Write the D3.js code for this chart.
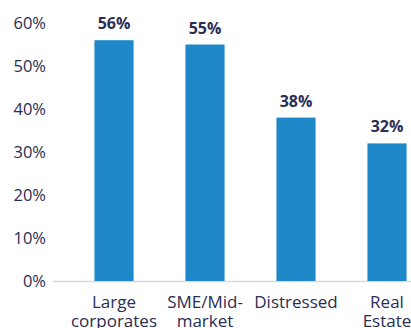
<!DOCTYPE html>
<html><head><meta charset="utf-8">
<script src="https://cdn.jsdelivr.net/npm/d3@7"></script>
<style>html,body{margin:0;padding:0;background:#fff;overflow:hidden;}svg{display:block;font-family:"Open Sans",sans-serif;}</style>
</head><body>
<svg id="c" width="411" height="328"></svg>
<script>
const categories = [["Large","corporates"],["SME/Mid-","market"],["Distressed"],["Real","Estate"]];
const values = [56, 55, 38, 32];
const valueLabels = ["56%","55%","38%","32%"];
const yTicks = [0,10,20,30,40,50,60];

const svg = d3.select("#c");
const y = d3.scaleLinear().domain([0,60]).range([281,23]);
const x = d3.scaleBand().domain(d3.range(values.length)).range([68.5,432.5]).paddingInner(0.57).paddingOuter(0.285);
const navy = "#2b2d52";

svg.append("line").attr("x1",53).attr("x2",411).attr("y1",y(0)+0.5).attr("y2",y(0)+0.5)
  .attr("stroke","#d9d9d9").attr("stroke-width",1.5);

svg.selectAll("text.yt").data(yTicks).enter().append("text").attr("class","yt")
  .attr("x",46).attr("y",d=>y(d)).attr("dy","0.36em").attr("text-anchor","end")
  .attr("font-size",16.5).attr("fill",navy).text(d=>d+"%");

svg.selectAll("rect.bar").data(values).enter().append("rect").attr("class","bar")
  .attr("x",(d,i)=>x(i)).attr("width",x.bandwidth()).attr("y",d=>y(d)).attr("height",d=>y(0)-y(d))
  .attr("fill","#1f88c9");

svg.selectAll("text.vl").data(values).enter().append("text").attr("class","vl")
  .attr("x",(d,i)=>x(i)+x.bandwidth()/2).attr("y",d=>y(d)-11).attr("text-anchor","middle")
  .attr("font-size",16).attr("font-weight","bold").attr("fill",navy).text((d,i)=>valueLabels[i]);

categories.forEach((lines,i)=>{
  const t = svg.append("text").attr("x",x(i)+x.bandwidth()/2).attr("y",308).attr("text-anchor","middle")
    .attr("font-size",17).attr("fill",navy);
  lines.forEach((l,j)=>t.append("tspan").attr("x",x(i)+x.bandwidth()/2).attr("dy",j?19:0).text(l));
});
</script>
</body></html>
